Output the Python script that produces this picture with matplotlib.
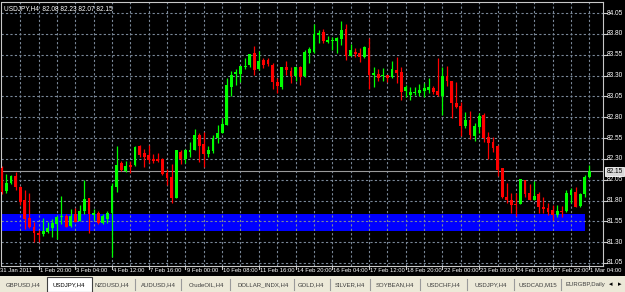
import matplotlib
matplotlib.use("Agg")
import matplotlib.pyplot as plt
from matplotlib.patches import Rectangle
from matplotlib.transforms import blended_transform_factory

# ---------------- data (USDJPY, H4) ----------------
opens = [82.19, 81.91, 82.01, 82.09, 81.96, 81.81, 81.59, 81.48, 81.41, 81.40,
         81.42, 81.47, 81.52, 81.60, 81.61, 81.49, 81.64, 81.55, 81.67, 81.83,
         81.63, 81.65, 81.53, 81.58, 81.65, 81.96, 82.25, 82.15, 82.23, 82.23,
         82.45, 82.37, 82.34, 82.30, 82.30, 82.30, 82.13, 82.08, 81.83, 82.38,
         82.30, 82.38, 82.41, 82.59, 82.48, 82.36, 82.40, 82.55, 82.61, 82.71,
         83.16, 83.32, 83.32, 83.40, 83.43, 83.57, 83.38, 83.49, 83.49, 83.43,
         83.22, 83.16, 83.40, 83.35, 83.29, 83.40, 83.29, 83.57, 83.58, 83.79,
         83.82, 83.70, 83.71, 83.71, 83.74, 83.86, 83.53, 83.58, 83.57, 83.52,
         83.63, 83.31, 83.32, 83.29, 83.31, 83.28, 83.37, 83.34, 83.11, 83.07,
         83.09, 83.09, 83.11, 83.13, 83.15, 83.12, 83.05, 83.29, 83.23, 82.97,
         82.93, 82.69, 82.77, 82.57, 82.68, 82.83, 82.56, 82.50, 82.45, 82.19,
         81.84, 81.81, 81.76, 81.76, 82.05, 81.89, 81.81, 81.88, 81.72, 81.71,
         81.69, 81.63, 81.67, 81.67, 81.87, 81.90, 81.73, 81.88, 82.08]
highs = [82.21, 82.12, 82.11, 82.14, 81.97, 81.93, 81.89, 81.54, 81.45, 81.59,
         81.54, 81.58, 81.61, 81.85, 81.64, 81.70, 81.71, 81.75, 82.05, 81.83,
         81.70, 81.67, 81.64, 81.67, 82.01, 82.45, 82.27, 82.27, 82.27, 82.45,
         82.47, 82.42, 82.47, 82.36, 82.37, 82.31, 82.18, 82.24, 82.41, 82.41,
         82.42, 82.50, 82.66, 82.61, 82.62, 82.45, 82.59, 82.71, 82.79, 83.27,
         83.35, 83.38, 83.41, 83.51, 83.56, 83.65, 83.59, 83.51, 83.51, 83.45,
         83.27, 83.40, 83.47, 83.40, 83.40, 83.41, 83.61, 83.64, 83.92, 83.85,
         83.86, 83.77, 83.76, 83.76, 83.95, 83.92, 83.68, 83.63, 83.63, 83.66,
         83.75, 83.40, 83.38, 83.39, 83.31, 83.47, 83.52, 83.40, 83.19, 83.16,
         83.16, 83.20, 83.21, 83.27, 83.17, 83.51, 83.40, 83.41, 83.23, 83.22,
         82.98, 82.86, 82.87, 82.73, 82.85, 82.85, 82.62, 82.56, 82.47, 82.19,
         82.01, 81.89, 81.89, 82.06, 82.05, 82.00, 82.03, 81.90, 81.84, 81.77,
         81.75, 81.75, 81.73, 81.93, 81.95, 81.96, 81.89, 82.11, 82.23]
lows = [81.88, 81.89, 82.00, 81.93, 81.75, 81.46, 81.47, 81.30, 81.30, 81.37,
        81.41, 81.36, 81.34, 81.52, 81.48, 81.48, 81.54, 81.55, 81.64, 81.41,
        81.57, 81.52, 81.52, 81.53, 81.12, 81.90, 82.15, 82.14, 82.13, 82.21,
        82.32, 82.20, 82.25, 82.25, 82.26, 82.11, 81.99, 81.77, 81.83, 82.24,
        82.25, 82.32, 82.41, 82.26, 82.20, 82.32, 82.37, 82.49, 82.61, 82.71,
        83.05, 83.19, 83.22, 83.38, 83.40, 83.31, 83.37, 83.39, 83.41, 83.14,
        83.09, 83.14, 83.31, 83.21, 83.23, 83.19, 83.28, 83.45, 83.57, 83.69,
        83.69, 83.69, 83.61, 83.57, 83.67, 83.49, 83.53, 83.52, 83.46, 83.51,
        83.14, 83.16, 83.23, 83.23, 83.22, 83.27, 83.21, 83.01, 83.04, 83.01,
        83.07, 83.05, 83.04, 83.09, 83.08, 83.06, 82.83, 83.17, 82.79, 82.91,
        82.57, 82.67, 82.54, 82.51, 82.61, 82.50, 82.30, 82.38, 82.09, 81.83,
        81.77, 81.65, 81.61, 81.76, 81.84, 81.81, 81.81, 81.65, 81.65, 81.63,
        81.57, 81.60, 81.60, 81.66, 81.77, 81.72, 81.72, 81.84, 82.07]
closes = [81.90, 82.01, 82.09, 81.96, 81.78, 81.58, 81.48, 81.41, 81.39, 81.43,
          81.47, 81.53, 81.60, 81.61, 81.48, 81.61, 81.54, 81.67, 81.82, 81.64,
          81.65, 81.53, 81.61, 81.65, 81.97, 82.23, 82.17, 82.21, 82.20, 82.44,
          82.35, 82.32, 82.29, 82.27, 82.27, 82.12, 82.07, 81.83, 82.41, 82.30,
          82.41, 82.41, 82.59, 82.45, 82.36, 82.41, 82.55, 82.61, 82.72, 83.19,
          83.31, 83.34, 83.41, 83.41, 83.56, 83.37, 83.47, 83.43, 83.44, 83.22,
          83.17, 83.40, 83.37, 83.29, 83.40, 83.28, 83.58, 83.62, 83.80, 83.81,
          83.71, 83.73, 83.73, 83.75, 83.85, 83.53, 83.61, 83.56, 83.52, 83.64,
          83.31, 83.33, 83.27, 83.30, 83.27, 83.38, 83.33, 83.10, 83.16, 83.10,
          83.10, 83.13, 83.15, 83.16, 83.10, 83.07, 83.29, 83.23, 82.97, 82.92,
          82.69, 82.77, 82.59, 82.69, 82.81, 82.55, 82.49, 82.43, 82.17, 81.84,
          81.81, 81.75, 81.75, 82.06, 81.88, 81.81, 81.85, 81.72, 81.70, 81.66,
          81.63, 81.67, 81.66, 81.89, 81.93, 81.72, 81.88, 82.08, 82.15]

date_labels = ["31 Jan 2011", "1 Feb 20:00", "3 Feb 04:00", "4 Feb 12:00",
               "7 Feb 16:00", "9 Feb 00:00", "10 Feb 08:00", "11 Feb 16:00",
               "14 Feb 20:00", "16 Feb 04:00", "17 Feb 12:00", "18 Feb 20:00",
               "22 Feb 00:00", "23 Feb 08:00", "24 Feb 16:00", "27 Feb 22:00",
               "1 Mar 04:00"]
date_bars = [0, 8, 16, 24, 32, 40, 48, 56, 64, 72, 80, 88, 96, 104, 112, 120, 128]
price_ticks = [84.05, 83.80, 83.55, 83.30, 83.05, 82.80, 82.55, 82.30,
               82.05, 81.80, 81.55, 81.30, 81.05]
header = "USDJPY,H4  82.08 82.23 82.07 82.15"
last_price = 82.15
zone_low, zone_high = 81.43, 81.64
zone_end_bar = 127.06
tabs = ["GBPUSD,H4", "USDJPY,H4", "NZDUSD,H4", "AUDUSD,H4", "CrudeOIL,H4",
        "DOLLAR_INDX,H4", "GOLD,H4", "SILVER,H4", "SOYBEAN,H4", "USDCHF,H4",
        "USDJPY,H4", "USDCAD,M15", "EURGBP,Daily"]
tab_centers = [23, 69, 112, 158, 206, 263, 311, 350, 395, 443, 491, 538, 585]
tab_separators = [135, 181, 230, 294, 330, 370, 420, 467, 514, 561]
selected_tab = 1

FONT = ["Liberation Sans", "DejaVu Sans"]
FS_DATE = 4.2
FS_PRICE = 4.7
FS_TAB = 4.3

# ---------------- figure ----------------
W, H = 625, 292
fig = plt.figure(figsize=(W / 100, H / 100), dpi=100, facecolor="black")
L, R, T, B = 1.5, 603.0, 1.5, 266.0
ax = fig.add_axes([L / W, 1 - B / H, (R - L) / W, (B - T) / H])
ax.set_facecolor("black")
ax.set_xlim(-0.07, 130.98)
ax.set_ylim(81.014, 84.188)
ax.set_xticks([])
ax.set_yticks([])
for s in ax.spines.values():
    s.set_color("#c8c8c8")
    s.set_linewidth(0.8)

# support/resistance zone
ax.add_patch(Rectangle((-1, zone_low), zone_end_bar + 1, zone_high - zone_low,
                       facecolor="#0000ff", edgecolor="none", zorder=0.5))

# grid
grid_kw = dict(color="#7a8899", lw=0.8, ls=(0, (2, 2)), zorder=1)
for p in price_ticks:
    ax.axhline(p, **grid_kw)
for gb in range(4, 131, 4):
    ax.axvline(gb, **grid_kw)

# current price line
ax.axhline(last_price, color="#9a9a9a", lw=0.8, zorder=1.5)

# candles
n = len(opens)
xs = list(range(n))
cols = ["#00ff00" if c > o else "#ff0000" for o, c in zip(opens, closes)]
ax.vlines(xs, lows, highs, colors=cols, lw=0.9, zorder=2)
bottoms = [min(o, c) for o, c in zip(opens, closes)]
heights = [max(abs(c - o), 0.012) for o, c in zip(opens, closes)]
ax.bar(xs, heights, bottom=bottoms, width=0.62, color=cols, lw=0, zorder=3)

# header text
ax.text(0.004, 0.988, header, transform=ax.transAxes, ha="left", va="top",
        color="white", fontsize=FS_PRICE, family=FONT)

# price axis labels (right side)
bt = blended_transform_factory(ax.transAxes, ax.transData)
for p in price_ticks:
    ax.plot([1.0, 1.006], [p, p], transform=bt, color="#c8c8c8", lw=0.8,
            clip_on=False)
    ax.text(1.0055, p, f"{p:.2f}", transform=bt, ha="left", va="center",
            color="white", fontsize=FS_PRICE, family=FONT, clip_on=False)
ax.text(1.0055, last_price, f"{last_price:.2f}", transform=bt, ha="left",
        va="center", color="black", fontsize=FS_PRICE, family=FONT, clip_on=False,
        zorder=5, bbox=dict(boxstyle="square,pad=0.2", facecolor="#d8d8d8",
                            edgecolor="white", lw=0.6))

# time axis labels
bx = blended_transform_factory(ax.transData, ax.transAxes)
for pos, lab in zip(date_bars, date_labels):
    if pos > 0:
        ax.plot([pos, pos], [0, -0.012], transform=bx, color="#c8c8c8",
                lw=0.8, clip_on=False)
    ax.annotate(lab, xy=(pos, 0), xycoords=bx,
                xytext=(0.8 if pos else -1.0, -1.6),
                textcoords="offset points", ha="left", va="top", color="white",
                fontsize=FS_DATE, family=FONT, annotation_clip=False)

# tab bar
fig.add_artist(Rectangle((0, 0), 1, 16 / H, transform=fig.transFigure,
                         facecolor="#ece9d8", edgecolor="none"))
sx0, sx1 = 47, 92
fig.add_artist(Rectangle((sx0 / W, 0), (sx1 - sx0) / W, 15 / H,
                         transform=fig.transFigure, facecolor="white",
                         edgecolor="#404040", lw=0.8))
for i, (lab, cx) in enumerate(zip(tabs, tab_centers)):
    fig.text(cx / W, 1 - 284.5 / H, lab, ha="center", va="center",
             color="black" if i == selected_tab else "#3c3c3c",
             fontsize=FS_TAB, family=FONT)
for sx in tab_separators:
    fig.add_artist(plt.Line2D([sx / W, sx / W], [1 - 290 / H, 1 - 279 / H],
                              transform=fig.transFigure, color="#9a9a9a", lw=0.8))
fig.text(611 / W, 1 - 284.5 / H, "\u25c2", ha="center", va="center",
         color="black", fontsize=5, family=["DejaVu Sans"])
fig.text(620 / W, 1 - 284.5 / H, "\u25b8", ha="center", va="center",
         color="black", fontsize=5, family=["DejaVu Sans"])

fig.savefig("out.png", dpi=100, facecolor="black")
